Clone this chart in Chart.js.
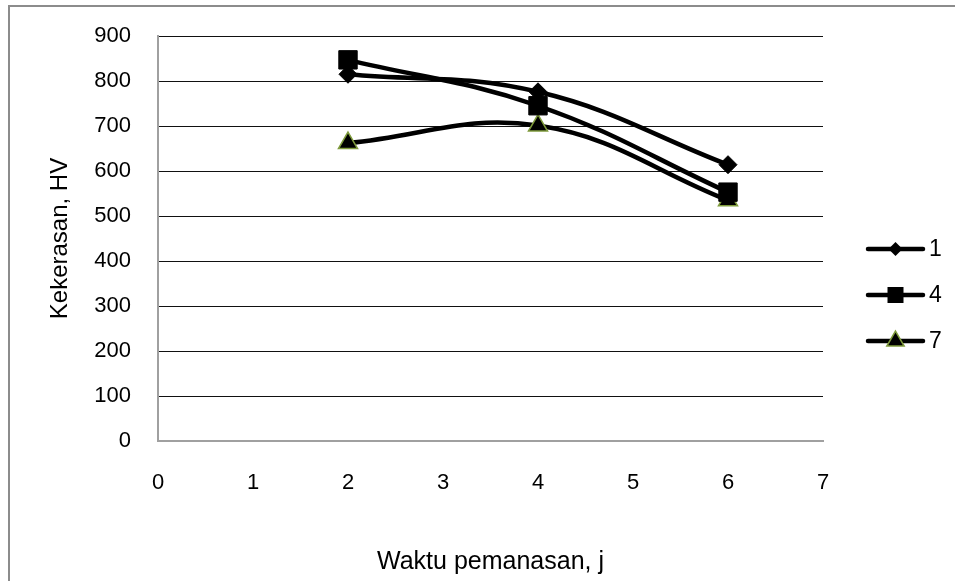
<!DOCTYPE html>
<html>
<head>
<meta charset="utf-8">
<script src="https://cdn.jsdelivr.net/npm/chart.js@4/dist/chart.umd.min.js"></script>
<style>
  body { margin: 0; background: #fff; }
  #bingkai {
    position: absolute; left: 8px; top: 5px; width: 2000px; height: 2000px;
    border-left: 2px solid #8c8c8c; border-top: 2px solid #8c8c8c;
  }
  #grafik { position: absolute; left: 0; top: 0; }
</style>
</head>
<body>
<div id="bingkai"></div>
<canvas id="grafik" width="955" height="581"></canvas>
<script>
// --- Datos ---
var waktu = [2, 4, 6];
var seri1 = [815, 776, 614];
var seri4 = [847, 745, 553];
var seri7 = [662, 701, 535];
var namaSeri = ["1", "4", "7"];

var tituloX = "Waktu pemanasan, j";
var tituloY = "Kekerasan, HV";

const fuente = "'Liberation Sans', Arial, sans-serif";

function puntos(ys) {
    return waktu.map((x, i) => ({ x: x, y: ys[i] }));
}

// --- Leyenda dibujada a mano (estilo Excel: línea + marcador) ---
const leyendaExcel = {
    id: 'leyendaExcel',
    afterDraw(chart) {
        const ctx = chart.ctx;
        const x0 = 868, x1 = 923;
        const ys = [249, 295, 341];
        chart.data.datasets.forEach((ds, i) => {
            const y = ys[i];
            const cx = (x0 + x1) / 2;
            ctx.save();
            ctx.strokeStyle = '#000';
            ctx.lineWidth = 4.5;
            ctx.lineCap = 'round';
            ctx.beginPath();
            ctx.moveTo(x0, y);
            ctx.lineTo(x1, y);
            ctx.stroke();
            ctx.fillStyle = '#000';
            ctx.beginPath();
            if (ds.pointStyle === 'rectRot') {
                const r = 7;
                ctx.moveTo(cx - r, y); ctx.lineTo(cx, y - r);
                ctx.lineTo(cx + r, y); ctx.lineTo(cx, y + r);
                ctx.closePath(); ctx.fill();
            } else if (ds.pointStyle === 'rect') {
                ctx.rect(cx - 8, y - 8, 16, 16); ctx.fill();
            } else {
                const r = 10;
                ctx.moveTo(cx, y - r);
                ctx.lineTo(cx + r * 0.866, y + r / 2);
                ctx.lineTo(cx - r * 0.866, y + r / 2);
                ctx.closePath(); ctx.fill();
                ctx.strokeStyle = ds.pointBorderColor;
                ctx.lineWidth = 1.5;
                ctx.stroke();
            }
            ctx.fillStyle = '#000';
            ctx.font = '23px ' + fuente;
            ctx.textBaseline = 'middle';
            ctx.fillText(namaSeri[i], x1 + 6, y + 1);
            ctx.restore();
        });
    }
};

const ctx = document.getElementById("grafik").getContext('2d');

new Chart(ctx, {
    type: 'scatter',
    data: {
        datasets: [{
            label: namaSeri[0],
            data: puntos(seri1),
            showLine: true,
            borderColor: '#000',
            borderWidth: 4.5,
            tension: 0.4,
            pointStyle: 'rectRot',
            pointRadius: 9,
            pointBackgroundColor: '#000',
            pointBorderColor: '#000',
            pointBorderWidth: 1
        }, {
            label: namaSeri[1],
            data: puntos(seri4),
            showLine: true,
            borderColor: '#000',
            borderWidth: 4.5,
            tension: 0.4,
            pointStyle: 'rect',
            pointRadius: 13,
            pointBackgroundColor: '#000',
            pointBorderColor: '#000',
            pointBorderWidth: 1
        }, {
            label: namaSeri[2],
            data: puntos(seri7),
            showLine: true,
            borderColor: '#000',
            borderWidth: 4.5,
            tension: 0.4,
            pointStyle: 'triangle',
            pointRadius: 11,
            pointBackgroundColor: '#000',
            pointBorderColor: '#7f9b3c',
            pointBorderWidth: 1.5
        }]
    },
    options: {
        responsive: false,
        animation: false,
        layout: { padding: { left: 0, top: 36, right: 132, bottom: 0 } },
        plugins: {
            legend: { display: false },
            tooltip: { enabled: false }
        },
        scales: {
            x: {
                type: 'linear',
                min: 0,
                max: 7,
                afterFit: s => { s.height = 140; },
                ticks: { stepSize: 1, padding: 29, color: '#000', font: { family: fuente, size: 22 } },
                grid: { display: false, drawTicks: false },
                border: { display: true, color: '#a0a0a0', width: 2 },
                title: {
                    display: true, text: tituloX, color: '#000',
                    font: { family: fuente, size: 25 },
                    padding: { top: 0, bottom: 4 }
                }
            },
            y: {
                min: 0,
                max: 900,
                afterFit: s => { s.width = 158; s.paddingTop = 12; s.paddingBottom = 12; },
                ticks: { stepSize: 100, padding: 27, color: '#000', font: { family: fuente, size: 22 } },
                grid: {
                    drawTicks: false,
                    color: c => (c.tick && c.tick.value === 0) ? 'rgba(0,0,0,0)' : '#111',
                    lineWidth: 1
                },
                border: { display: true, color: '#a0a0a0', width: 2 },
                title: {
                    display: true, text: tituloY, color: '#000',
                    font: { family: fuente, size: 24 },
                    padding: { top: 46, bottom: 0 }
                }
            }
        }
    },
    plugins: [leyendaExcel]
});
</script>
</body>
</html>
